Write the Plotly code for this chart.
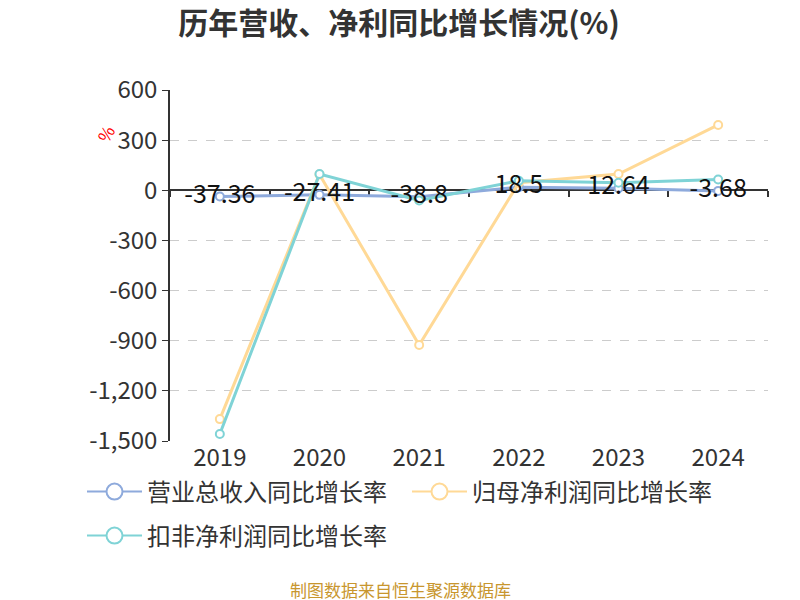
import plotly.graph_objects as go

years = ["2019", "2020", "2021", "2022", "2023", "2024"]
revenue_growth = [-37.36, -27.41, -38.8, 18.5, 12.64, -3.68]
net_profit_growth = [-1369, 95, -926, 45, 97, 391]
deducted_profit_growth = [-1458, 97, -61, 57, 45, 65]

y_ticks = [600, 300, 0, -300, -600, -900, -1200, -1500]
y_tick_text = ["600", "300", "0", "-300", "-600", "-900", "-1,200", "-1,500"]

names = ["营业总收入同比增长率", "归母净利润同比增长率", "扣非净利润同比增长率"]
colors = ["#8eaadc", "#ffd996", "#7fd3d6"]
series = [revenue_growth, net_profit_growth, deducted_profit_growth]

FONT = "Noto Sans CJK SC"
xs = list(range(len(years)))

# page has an 8px body margin; work in page pixels and convert
OFF = 8
W, H = 800 - OFF, 600 - OFF
L, R, T, B = 170 - OFF, 768 - OFF, 90 - OFF, 441 - OFF
def px(x):
    return (x - OFF - L) / (R - L)
def py(y):
    return (B - (y - OFF)) / (B - T)

fig = go.Figure()
for name, color, vals in zip(names, colors, series):
    fig.add_trace(go.Scatter(
        x=xs, y=vals, mode="lines+markers", name=name, showlegend=False,
        line=dict(color=color, width=3),
        marker=dict(symbol="circle", size=8, color="white",
                    line=dict(color=color, width=2)),
        hoverinfo="skip",
    ))
fig.add_trace(go.Scatter(
    x=xs, y=revenue_growth, mode="text",
    text=[f"{v:g}" for v in revenue_growth],
    textposition="middle center",
    textfont=dict(family=FONT, size=25, color="#111111"),
    showlegend=False, hoverinfo="skip",
))
legend_ids = ["legend", "legend2", "legend3"]
for name, color, lid in zip(names, colors, legend_ids):
    fig.add_trace(go.Scatter(
        x=[None], y=[None], mode="lines+markers", name=name, legend=lid,
        line=dict(color=color, width=2),
        marker=dict(symbol="circle", size=23, color="white",
                    line=dict(color=color, width=2)),
    ))
fig.add_trace(go.Scatter(x=[None], y=[None], xaxis="x2", showlegend=False,
                         hoverinfo="skip"))

ymin, ymax = -1500, 600
legend_common = dict(orientation="v", xanchor="left", yanchor="middle",
                     font=dict(size=24, color="#333333"), itemwidth=55,
                     bgcolor="rgba(0,0,0,0)", borderwidth=0)
fig.update_layout(
    width=W, height=H,
    paper_bgcolor="white", plot_bgcolor="white",
    margin=dict(l=L, r=W - R, t=T, b=H - B, autoexpand=False),
    font=dict(family=FONT, color="#333333"),
    title=dict(text="<b>历年营收、净利同比增长情况(%)</b>",
               x=(399 - OFF) / W, xanchor="center",
               y=1 - (23 - OFF) / H, yanchor="middle",
               font=dict(size=30, color="#333333")),
    xaxis=dict(range=[-0.5, 5.5], tickvals=xs, ticktext=years, showline=False,
               showgrid=False, zeroline=False, ticks="",
               tickfont=dict(size=24, color="#333333")),
    xaxis2=dict(range=[-0.5, 5.5], overlaying="x", anchor="free",
                position=(0 - ymin) / (ymax - ymin), side="bottom",
                tickvals=[i - 0.5 for i in range(len(years) + 1)],
                showticklabels=False, ticks="outside", ticklen=6, tickwidth=1.5,
                tickcolor="#333333", showline=True, linecolor="#333333",
                linewidth=1.5, showgrid=False, zeroline=False,
                layer="below traces"),
    yaxis=dict(range=[ymin, ymax], tickvals=y_ticks, ticktext=y_tick_text,
               showline=True, linecolor="#333333", linewidth=1.5,
               ticks="outside", ticklen=6, tickcolor="#333333",
               showgrid=True, gridcolor="#cccccc", griddash="dash", gridwidth=1.3,
               zeroline=False, tickfont=dict(size=24, color="#333333")),
    legend=dict(x=px(82), y=py(492), **legend_common),
    legend2=dict(x=px(407), y=py(492), **legend_common),
    legend3=dict(x=px(82), y=py(536), **legend_common),
    annotations=[
        dict(text="%", xref="paper", yref="paper", x=px(105), y=py(133),
             xanchor="center", yanchor="middle",
             showarrow=False, textangle=-60, font=dict(size=17, color="#ff0000")),
        dict(text="制图数据来自恒生聚源数据库", xref="paper", yref="paper",
             x=px(400), y=py(589), xanchor="center",
             yanchor="middle", showarrow=False,
             font=dict(size=17, color="#c8962e")),
    ],
)

fig.write_html("out.html")
